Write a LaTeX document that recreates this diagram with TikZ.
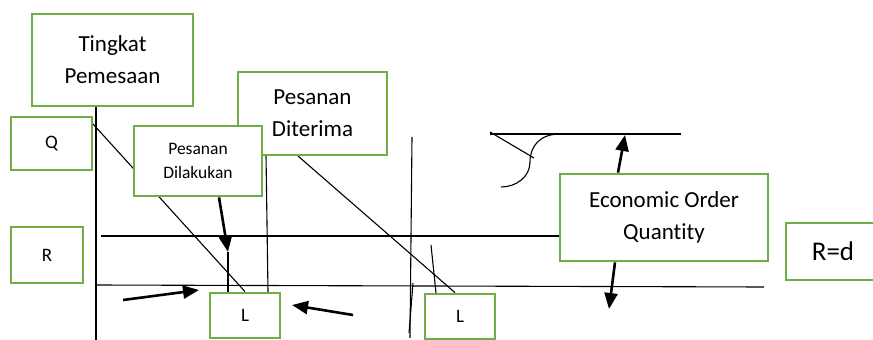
\documentclass[tikz,border=0pt]{standalone}
\usepackage{fontspec}
\setmainfont{Carlito}[Ligatures=NoCommon]
\usetikzlibrary{arrows.meta}
\definecolor{boxgreen}{RGB}{112,173,71}
\begin{document}
\begin{tikzpicture}[x=1pt,y=-1pt,
  box/.style={draw=boxgreen, line width=2.8pt, fill=white, inner sep=0pt, align=center},
  big/.style={font=\fontsize{23}{32}\selectfont},
  small/.style={font=\fontsize{17.5}{24}\selectfont},
  mid/.style={font=\fontsize{19}{24}\selectfont},
  thin/.style={line width=1.1pt},
  pointer/.style={line width=2.6pt, -{Triangle[length=16pt,width=13pt]}}]
\useasboundingbox (0,0) rectangle (873,340);

% reference points on the graph
\coordinate (axbot) at (96,340);
\coordinate (qstart) at (93,124);
\coordinate (rstart) at (101,236);
\coordinate (bstart) at (96,285);
\coordinate (bend) at (764,287);
\coordinate (ltip) at (228,252);
\coordinate (dtop) at (266,155);
\coordinate (dbot) at (268,292);
\coordinate (ttop) at (298,156);
\coordinate (vtop) at (412,137);
\coordinate (vbot) at (410,338);
\coordinate (vtop2) at (413,283);
\coordinate (vbot2) at (409,333);
\coordinate (stop) at (431,245);
\coordinate (sbot) at (436,293);
\coordinate (la) at (123,300);
\coordinate (lb) at (199,290);
\coordinate (ra) at (353,315);
\coordinate (rb) at (292,305);
\coordinate (uptip) at (625,135);
\coordinate (dntip) at (609,309);
\coordinate (ta) at (490,134);
\coordinate (tb) at (681,134);
\coordinate (ka) at (490,132);
\coordinate (kb) at (534,158);
\coordinate (ca) at (560,134);
\coordinate (cm) at (530,162);
\coordinate (cb) at (501,187);

% boxes that lines run into
\node[box, big, minimum width=161pt, minimum height=92pt] (tingkat) at (112.5,60) {Tingkat\\Pemesaan};
\node[box, mid, minimum width=81pt, minimum height=53pt] (q) at (51.5,143.5) {Q};
\node[box, mid, minimum width=72pt, minimum height=56pt] (r) at (47,255) {R};
\node[box, mid, minimum width=70pt, minimum height=45pt] (l1) at (245,315.5) {L};
\node[box, mid, minimum width=70pt, minimum height=45pt] (l2) at (460,316.5) {L};
\node[box, big, minimum width=208pt, minimum height=87pt] (eoq) at (664,217.5) {Economic Order\\Quantity};
\node[box, font=\fontsize{27}{32}\selectfont, minimum width=94pt, minimum height=57pt] (rd) at (833,251.5) {R=d};

% axis and levels
\draw[thin] (tingkat.south -| axbot) -- (axbot);
\draw[thin] (qstart) -- (l1.north);
\draw[thin] (rstart) -- (eoq.west |- rstart);
\draw[thin] (bstart) -- (bend);
\draw[thin] (ltip) -- (l1.north -| ltip);
\draw[thin] (dtop) -- (dbot);
\draw[thin] (ttop) -- (l2.north -| 455,0);
\draw[thin] (vtop) -- (vbot);
\draw[thin] (vtop2) -- (vbot2);
\draw[thin] (stop) -- (sbot);

% curve detail at the top level
\draw[thin] (ta) -- (tb);
\draw[thin] (ka) -- (kb);
\draw[thin] (ca) .. controls (540,134) and (530,146) .. (cm)
  .. controls (530,177) and (516,187) .. (cb);

% boxes on top of the lines
\node[box, big, minimum width=149pt, minimum height=83pt] (diterima) at (312.5,113.5) {Pesanan\\Diterima};
\node[box, small, minimum width=128pt, minimum height=70pt] (dilakukan) at (198,161) {Pesanan\\Dilakukan};

% pointers
\draw[pointer] (dilakukan.south -| 219,0) -- (ltip);
\draw[pointer] (la) -- (lb);
\draw[pointer] (ra) -- (rb);
\draw[pointer] (eoq.north -| 618,0) -- (uptip);
\draw[pointer] (eoq.south -| 615,0) -- (dntip);
\end{tikzpicture}
\end{document}
